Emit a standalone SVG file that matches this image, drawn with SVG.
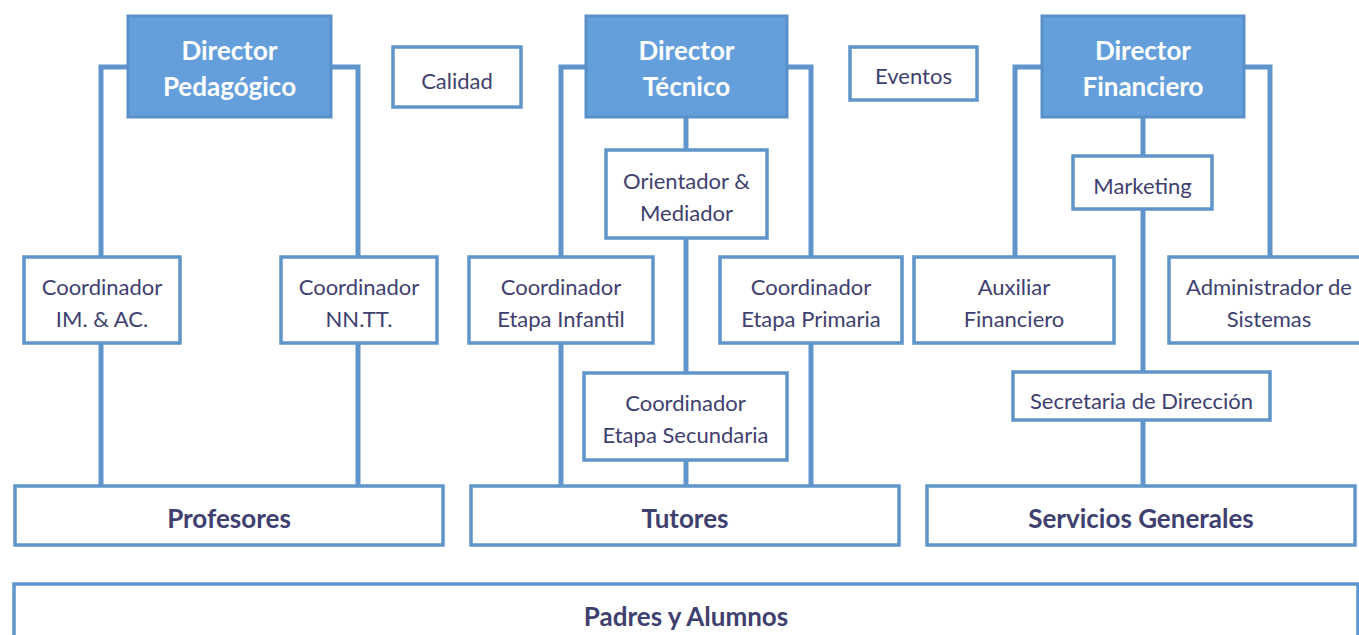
<svg xmlns="http://www.w3.org/2000/svg" width="1359" height="635" viewBox="0 0 1359 635">
<style>
.dir{fill:#659fdb;stroke:#5b8fc9;stroke-width:3}
.box{fill:#ffffff;stroke:#5f95cb;stroke-width:3.5}
.ln{stroke:#5f95cb;stroke-width:5;fill:none}
.dt{font-family:Lato,"Liberation Sans",sans-serif;font-weight:bold;font-size:26px;fill:#ffffff;text-anchor:middle}
.t{font-family:Lato,"Liberation Sans",sans-serif;font-size:22px;fill:#404070;text-anchor:middle}
.b{font-family:Lato,"Liberation Sans",sans-serif;font-weight:bold;font-size:26px;fill:#404070;text-anchor:middle}
</style>
<rect width="1359" height="635" fill="#ffffff"/>
<g id="connectors">
<polyline class="ln" points="128,67 101,67 101,486"/>
<polyline class="ln" points="331,67 358,67 358,486"/>
<polyline class="ln" points="586,67 561,67 561,486"/>
<polyline class="ln" points="787,67 811,67 811,486"/>
<line class="ln" x1="686" y1="117" x2="686" y2="486"/>
<polyline class="ln" points="1042,67 1015,67 1015,257"/>
<polyline class="ln" points="1244,67 1270,67 1270,257"/>
<line class="ln" x1="1143" y1="117" x2="1143" y2="486"/>
</g>
<g id="dir-pedagogico"><rect class="dir" x="128" y="16" width="203" height="101"/><text class="dt" x="229.5" y="60">Director</text><text class="dt" x="229.5" y="96">Pedagógico</text></g>
<g id="calidad"><rect class="box" x="393" y="47" width="128" height="60"/><text class="t" x="457" y="89">Calidad</text></g>
<g id="dir-tecnico"><rect class="dir" x="586" y="16" width="201" height="101"/><text class="dt" x="686.5" y="60">Director</text><text class="dt" x="686.5" y="96">Técnico</text></g>
<g id="eventos"><rect class="box" x="850" y="47" width="127" height="53"/><text class="t" x="913.5" y="84">Eventos</text></g>
<g id="dir-financiero"><rect class="dir" x="1042" y="16" width="202" height="101"/><text class="dt" x="1143" y="60">Director</text><text class="dt" x="1143" y="96">Financiero</text></g>
<g id="orientador"><rect class="box" x="606" y="150" width="161" height="88"/><text class="t" x="686.5" y="189">Orientador &amp;</text><text class="t" x="686.5" y="221">Mediador</text></g>
<g id="marketing"><rect class="box" x="1073" y="156" width="139" height="53"/><text class="t" x="1142.5" y="194">Marketing</text></g>
<g id="coord-im"><rect class="box" x="24" y="257" width="156" height="86"/><text class="t" x="102" y="295">Coordinador</text><text class="t" x="102" y="327">IM. &amp; AC.</text></g>
<g id="coord-nntt"><rect class="box" x="281" y="257" width="156" height="86"/><text class="t" x="359" y="295">Coordinador</text><text class="t" x="359" y="327">NN.TT.</text></g>
<g id="coord-infantil"><rect class="box" x="469" y="257" width="184" height="86"/><text class="t" x="561" y="295">Coordinador</text><text class="t" x="561" y="327">Etapa Infantil</text></g>
<g id="coord-primaria"><rect class="box" x="720" y="257" width="182" height="86"/><text class="t" x="811" y="295">Coordinador</text><text class="t" x="811" y="327">Etapa Primaria</text></g>
<g id="auxiliar"><rect class="box" x="914" y="257" width="200" height="86"/><text class="t" x="1014" y="295">Auxiliar</text><text class="t" x="1014" y="327">Financiero</text></g>
<g id="administrador"><rect class="box" x="1169" y="257" width="200" height="86"/><text class="t" x="1269" y="295">Administrador de</text><text class="t" x="1269" y="327">Sistemas</text></g>
<g id="coord-secundaria"><rect class="box" x="584" y="373" width="203" height="87"/><text class="t" x="685.5" y="411">Coordinador</text><text class="t" x="685.5" y="443">Etapa Secundaria</text></g>
<g id="secretaria"><rect class="box" x="1013" y="372" width="257" height="48"/><text class="t" x="1141.5" y="409">Secretaria de Dirección</text></g>
<g id="profesores"><rect class="box" x="15" y="486" width="428" height="59"/><text class="b" x="229" y="528">Profesores</text></g>
<g id="tutores"><rect class="box" x="471" y="486" width="428" height="59"/><text class="b" x="685" y="528">Tutores</text></g>
<g id="servicios"><rect class="box" x="927" y="486" width="428" height="59"/><text class="b" x="1141" y="528">Servicios Generales</text></g>
<g id="padres"><rect class="box" x="14" y="584" width="1344" height="70"/><text class="b" x="686" y="626">Padres y Alumnos</text></g>
</svg>
